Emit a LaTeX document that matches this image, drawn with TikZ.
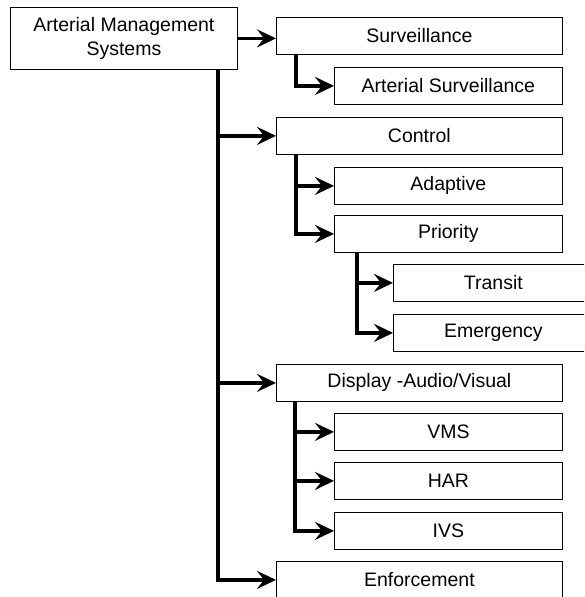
\documentclass[tikz,border=0pt]{standalone}
\usepackage{fontspec}
\setmainfont{Liberation Sans}
\usetikzlibrary{arrows.meta,calc,positioning}

\tikzset{
    box/.style={draw, line width=0.8pt, anchor=north west, minimum height=37pt,
        inner sep=0pt, font=\fontsize{19.5}{24}\selectfont},
    topbox/.style={box, minimum width=286pt},
    subbox/.style={box, minimum width=228pt},
    leafbox/.style={box, minimum width=200pt},
    link/.style={line width=3.5pt, line join=miter,
        -{Stealth[length=19pt,width=18pt,inset=7pt]}}
}

\begin{document}
\begin{tikzpicture}[x=1pt, y=1pt]
    \clip (0,0) rectangle (584,-597);

    % Root box.
    \node[box, minimum width=227pt, minimum height=62pt, align=center] (root) at (10,-7)
        {Arterial Management\\Systems};

    % First level boxes.
    \node[topbox] (surv) at (276,-17) {Surveillance};
    \node[topbox] (ctrl) at (276,-117) {Control};
    \node[topbox] (disp) at (276,-364) {Display -Audio/Visual};
    \node[topbox] (enf)  at (276,-561) {Enforcement};

    % Second level boxes.
    \foreach \name/\txt/\y in {asurv/Arterial Surveillance/67,
            adapt/Adaptive/167, prio/Priority/215,
            vms/VMS/413, har/HAR/462, ivs/IVS/512}
    {
        \node[subbox] (\name) at (334,-\y) {\txt};
    }

    % Third level boxes.
    \node[leafbox] (transit) at (393,-264) {Transit};
    \node[leafbox] (emerg)   at (393,-314) {Emergency};

    % Main trunk.
    \coordinate (trunk) at (218,-69);
    \draw[link] (root.east) -- (root.east -| surv.west);
    \foreach \n in {ctrl,disp}
        \draw[link] (trunk |- \n.west) -- (\n.west);
    \draw[link] (trunk) |- (enf.west);

    % Branches.
    \coordinate (sbr) at ([xshift=20pt]surv.south west);
    \coordinate (cbr) at ([xshift=20pt]ctrl.south west);
    \coordinate (pbr) at ([xshift=23pt]prio.south west);
    \coordinate (dbr) at ([xshift=19pt]disp.south west);
    \draw[link] (sbr) |- (asurv.west);
    \draw[link] (cbr |- adapt.west) -- (adapt.west);
    \draw[link] (cbr) |- (prio.west);
    \draw[link] (pbr |- transit.west) -- (transit.west);
    \draw[link] (pbr) |- (emerg.west);
    \foreach \n in {vms,har}
        \draw[link] (dbr |- \n.west) -- (\n.west);
    \draw[link] (dbr) |- (ivs.west);
\end{tikzpicture}
\end{document}
